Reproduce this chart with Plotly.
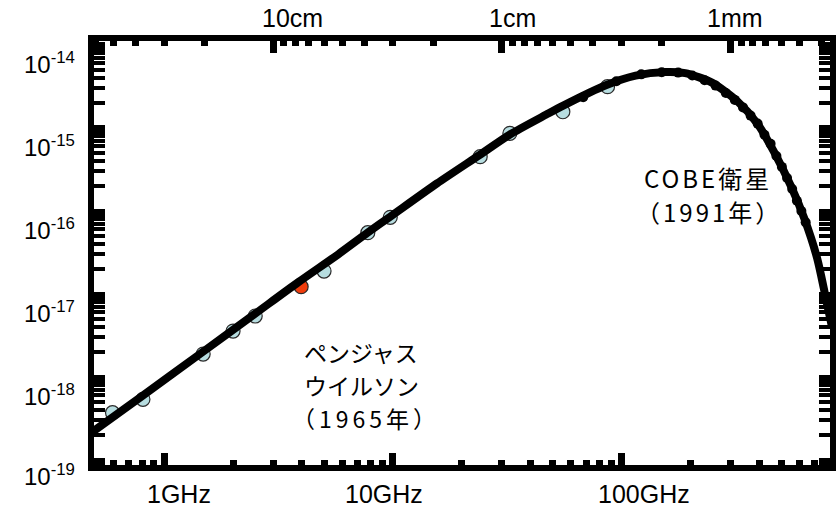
import plotly.graph_objects as go

# ---------------- data ----------------
# Blackbody curve (frequency in GHz, intensity)
curve_freq_ghz = [0.47, 0.804, 1.465, 2.512, 3.86, 5.76, 7.77, 9.77, 15.6, 24.0, 32.4,
                  46.9, 55.6, 85.4, 115.3, 155.6, 189.9, 248.7, 322.5, 393.8, 466.7,
                  553.2, 629.7, 717.3, 792.6, 830.0]
curve_intensity = [2.05e-19, 5.95e-19, 1.98e-18, 5.85e-18, 1.39e-17, 3.0e-17, 5.5e-17,
                   8.6e-17, 2.15e-16, 4.75e-16, 8.3e-16, 1.45e-15, 1.86e-15, 3.27e-15,
                   4.28e-15, 4.73e-15, 4.58e-15, 3.52e-15, 2.08e-15, 1.12e-15, 5.05e-16,
                   1.95e-16, 8.2e-17, 2.7e-17, 7.6e-18, 4.2e-18]

# Ground-based measurements (light blue circles)
ground_freq_ghz = [0.594, 0.807, 1.48, 2.00, 2.50, 5.00, 7.77, 9.74, 24.1, 32.5, 55.4, 86.9]
ground_intensity = [3.72e-19, 5.39e-19, 1.89e-18, 3.58e-18, 5.43e-18, 1.89e-17, 5.48e-17,
                    8.39e-17, 4.51e-16, 8.63e-16, 1.57e-15, 3.15e-15]

# Penzias & Wilson (1965) point
pw_freq_ghz = [3.97]
pw_intensity = [1.225e-17]

# COBE (1991) points
cobe_freq_ghz = [68, 95, 122, 150, 177, 204, 231, 258, 286, 313, 340, 367, 394, 422,
                 449, 476, 503, 530, 558, 585, 612, 639]
cobe_intensity = [2.35e-15, 3.65e-15, 4.43e-15, 4.70e-15, 4.65e-15, 4.28e-15, 3.76e-15,
                  3.24e-15, 2.64e-15, 2.18e-15, 1.77e-15, 1.41e-15, 1.13e-15, 8.30e-16,
                  6.44e-16, 4.59e-16, 3.40e-16, 2.50e-16, 1.84e-16, 1.33e-16, 1.00e-16,
                  7.3e-17]

# Tick labels
bottom_tick_labels = ["1GHz", "10GHz", "100GHz"]
bottom_tick_freq_ghz = [1, 10, 100]
top_tick_labels = ["10cm", "1cm", "1mm"]
top_tick_wavelength_cm = [10, 1, 0.1]
y_tick_exponents = [-14, -15, -16, -17, -18, -19]

pw_label_lines = ["ペンジャス", "ウイルソン", "（1965年）"]
cobe_label_lines = ["COBE衛星", "（1991年）"]

# ---------------- layout geometry ----------------
W, H = 836, 507
ML, MR, MT, MB = 94, 0, 41, 42
X_RANGE = [-0.3072, 2.912]
Y_RANGE = [-19.060, -13.952]

def px_x(px):
    return (px - ML) / (W - ML - MR)

def px_y(py):
    return (H - MB - py) / (H - MT - MB)

C_LIGHT_GHZ_CM = 30.0  # f[GHz] = 30 / lambda[cm]

# tick positions
bottom_minor = [m * 10.0 ** e for e in range(-1, 3) for m in range(2, 10)]
top_major = [C_LIGHT_GHZ_CM / w for w in top_tick_wavelength_cm]
top_minor_wl = [m * 10.0 ** e for e in range(-2, 2) for m in range(2, 10)]
top_minor = [C_LIGHT_GHZ_CM / w for w in top_minor_wl]
y_major = [10.0 ** e for e in y_tick_exponents]
y_minor = [m * 10.0 ** e for e in range(-20, -13) for m in range(2, 10)]

FONT_LATIN = "Liberation Sans, Arial, Noto Sans CJK JP, sans-serif"
FONT_JP = "Noto Sans CJK JP, Liberation Sans, sans-serif"

fig = go.Figure()

fig.add_trace(go.Scatter(
    x=ground_freq_ghz, y=ground_intensity, mode="markers",
    marker=dict(size=14, color="#b7dde0", line=dict(color="#2a2a2a", width=1.2)),
    showlegend=False, hoverinfo="skip"))
fig.add_trace(go.Scatter(
    x=pw_freq_ghz, y=pw_intensity, mode="markers",
    marker=dict(size=14, color="#f03c0c", line=dict(color="#2a2a2a", width=1.2)),
    showlegend=False, hoverinfo="skip"))
fig.add_trace(go.Scatter(
    x=curve_freq_ghz, y=curve_intensity, mode="lines",
    line=dict(color="black", width=8, shape="spline", smoothing=0.7),
    showlegend=False, hoverinfo="skip"))
fig.add_trace(go.Scatter(
    x=cobe_freq_ghz, y=cobe_intensity, mode="markers",
    marker=dict(size=10, color="black"),
    showlegend=False, hoverinfo="skip"))
# invisible trace to activate top axis
fig.add_trace(go.Scatter(
    x=[top_major[0]], y=[y_major[0]], xaxis="x2", mode="markers",
    marker=dict(size=1, opacity=0), showlegend=False, hoverinfo="skip"))

fig.update_layout(
    width=W, height=H,
    margin=dict(l=ML, r=MR, t=MT, b=MB, pad=0),
    paper_bgcolor="white", plot_bgcolor="white",
    xaxis=dict(
        type="log", range=X_RANGE, showgrid=False, zeroline=False,
        showline=True, linecolor="black", linewidth=6,
        tickmode="array", tickvals=bottom_tick_freq_ghz, showticklabels=False,
        ticks="inside", ticklen=12, tickwidth=7, tickcolor="black",
        minor=dict(tickmode="array", tickvals=bottom_minor, ticks="inside",
                   ticklen=5, tickwidth=7, tickcolor="black", showgrid=False),
    ),
    xaxis2=dict(
        type="log", range=X_RANGE, overlaying="x", side="top", anchor="y",
        showgrid=False, zeroline=False,
        showline=True, linecolor="black", linewidth=6,
        tickmode="array", tickvals=top_major, showticklabels=False,
        ticks="inside", ticklen=12, tickwidth=7, tickcolor="black",
        minor=dict(tickmode="array", tickvals=top_minor, ticks="inside",
                   ticklen=5, tickwidth=7, tickcolor="black", showgrid=False),
    ),
    yaxis=dict(
        type="log", range=Y_RANGE, showgrid=False, zeroline=False,
        showline=True, linecolor="black", linewidth=6, mirror="allticks",
        tickmode="array", tickvals=y_major, showticklabels=False,
        ticks="inside", ticklen=11, tickwidth=5, tickcolor="black",
        minor=dict(tickmode="array", tickvals=y_minor, ticks="inside",
                   ticklen=4, tickwidth=4, tickcolor="black", showgrid=False),
    ),
)

annotations = []
# bottom tick labels
bottom_label_px = [180, 386, 648]
for txt, px in zip(bottom_tick_labels, bottom_label_px):
    annotations.append(dict(text=txt, x=px_x(px), y=px_y(494), xref="paper", yref="paper",
                            xanchor="center", yanchor="middle", showarrow=False,
                            font=dict(family=FONT_LATIN, size=25, color="black")))
# top tick labels
top_label_px = [294, 516, 740]
for txt, px in zip(top_tick_labels, top_label_px):
    annotations.append(dict(text=txt, x=px_x(px), y=px_y(18), xref="paper", yref="paper",
                            xanchor="center", yanchor="middle", showarrow=False,
                            font=dict(family=FONT_LATIN, size=25, color="black")))
# y tick labels
for e in y_tick_exponents:
    annotations.append(dict(text="10<sup>%d</sup>" % e, x=px_x(77), y=e,
                            xref="paper", yref="y", xanchor="right", yanchor="middle",
                            yshift=(-18 if e > -19 else -15), showarrow=False,
                            font=dict(family=FONT_LATIN, size=24, color="black")))

def spaced(text, px):
    return '<span style="letter-spacing:%dpx">%s</span>' % (px, text)

# text labels
pw_spacing = [0, 0, 4]
pw_x = [304, 304, 292]
for i, line in enumerate(pw_label_lines):
    annotations.append(dict(text=spaced(line, pw_spacing[i]), x=px_x(pw_x[i]),
                            y=px_y(352 + 33 * i),
                            xref="paper", yref="paper", xanchor="left", yanchor="middle",
                            showarrow=False,
                            font=dict(family=FONT_JP, size=23, color="black")))
cobe_spacing = [3, 3]
cobe_x = [646, 638]
for i, line in enumerate(cobe_label_lines):
    annotations.append(dict(text=spaced(line, cobe_spacing[i]), x=px_x(cobe_x[i]),
                            y=px_y(177 + 34 * i),
                            xref="paper", yref="paper", xanchor="left", yanchor="middle",
                            showarrow=False,
                            font=dict(family=FONT_JP, size=24, color="black")))
fig.update_layout(annotations=annotations)

fig.write_html("out.html")
